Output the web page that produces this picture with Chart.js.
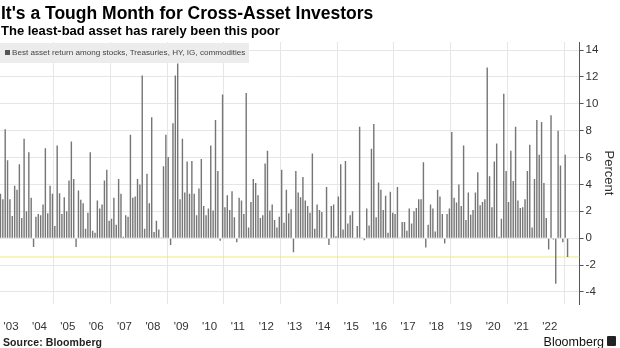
<!DOCTYPE html>
<html>
<head>
<meta charset="utf-8">
<script src="https://cdn.jsdelivr.net/npm/chart.js@4.4.1/dist/chart.umd.min.js"></script>
<style>
  html, body { margin: 0; padding: 0; background: #fff; }
  body { width: 620px; height: 348px; position: relative; overflow: hidden; font-family: "Liberation Sans", Arial, sans-serif; }
  #chart { position: absolute; left: 0; top: 0; }
  .txt { position: absolute; white-space: nowrap; line-height: 1; }
  #title { left: 1px; top: 5px; font-size: 17.5px; font-weight: bold; color: #000; }
  #subtitle { left: 1px; top: 24px; font-size: 13px; font-weight: bold; color: #000; }
  #legend { position: absolute; left: 0; top: 43px; width: 249px; height: 20px; background: #ececec; }
  #legend .box { position: absolute; left: 5px; top: 7px; width: 5px; height: 5px; background: #555; }
  #legend .lbl { left: 12px; top: 6px; font-size: 8.1px; color: #444; }
  #source { left: 3px; top: 337px; font-size: 10.5px; font-weight: bold; color: #222; letter-spacing: 0.1px; }
  #brand { right: 16px; top: 336px; font-size: 12.5px; color: #111; }
  #brandMark { position: absolute; right: 4px; top: 336px; width: 9px; height: 10px; background: #222; border-radius: 1px; }
</style>
</head>
<body>
<canvas id="chart" width="620" height="348"></canvas>
<div class="txt" id="title">It's a Tough Month for Cross-Asset Investors</div>
<div class="txt" id="subtitle">The least-bad asset has rarely been this poor</div>
<div id="legend"><div class="box"></div><div class="txt lbl">Best asset return among stocks, Treasuries, HY, IG, commodities</div></div>
<div class="txt" id="source">Source: Bloomberg</div>
<div class="txt" id="brand">Bloomberg</div>
<div id="brandMark"></div>
<script>
// monthly best return, Feb 2003 .. Feb 2023 (percent)
const bestReturn = [
  3.3, 2.9, 8.1, 5.8, 2.9, 1.65, 3.9, 3.6, 5.5, 1.5, 7.4,
  2.0, 6.4, 3.0, -0.65, 1.6, 1.8, 1.7, 2.5, 6.7, 1.85, 3.9, 3.3,
  0.9, 6.9, 3.35, 1.8, 3.05, 2.0, 4.3, 7.2, 4.4, -0.65, 3.55, 2.85,
  2.6, 0.7, 1.9, 6.4, 0.55, 0.4, 2.8, 2.2, 2.5, 4.3, 5.1, 1.3,
  1.45, 3.0, 1.0, 4.4, 3.3, 0.1, 1.7, 1.6, 7.7, 3.0, 3.1, 4.4,
  4.0, 12.1, 0.7, 4.8, 2.6, 9.0, 0.45, 1.3, 0.65, 0.05, 5.35, 7.7,
  6.05, -0.5, 8.55, 12.1, 13.0, 2.9, 7.4, 3.4, 5.7, 3.3, 5.75, 3.3,
  1.7, 3.7, 5.9, 2.4, 1.7, 2.2, 6.9, 2.05, 8.8, 5.0, -0.2, 10.7,
  2.3, 3.2, 2.1, 3.5, 1.55, -0.3, 3.0, 2.8, 1.8, 10.8, 0.8, 2.7,
  4.4, 4.1, 3.2, 1.5, 1.7, 5.55, 6.5, 2.05, 2.5, 1.35, 0.8, 1.6,
  5.1, 1.15, 3.6, 1.85, 2.15, -1.05, 5.0, 3.4, 3.05, 4.55, 2.8, 2.4,
  1.9, 6.3, 0.7, 2.5, 2.1, 1.95, 0.05, 3.8, -0.5, 2.4, 2.5, 0.15,
  3.1, 5.5, 0.65, 5.75, 1.1, 1.7, 2.0, 0.05, 0.9, 8.3, 0.05, -0.15,
  2.2, 0.95, 6.65, 8.5, 1.55, 4.15, 3.6, 2.1, 3.15, 0.4, 3.45, 1.9,
  1.8, 3.8, 0.05, 1.2, 1.2, 0.55, 2.2, 1.1, 2.0, 2.25, 2.9, 2.9,
  5.65, -0.7, 1.0, 2.5, 2.2, 0.5, 3.6, 3.1, 1.8, -0.4, 1.8, 2.2,
  7.9, 3.0, 2.65, 4.0, 2.4, 6.9, 1.35, 3.4, 1.75, 2.1, 3.4, 4.9,
  2.45, 2.7, 2.9, 12.7, 4.6, 2.3, 5.7, 7.05, 0.1, 1.45, 10.75, 5.0,
  2.7, 6.5, 4.25, 8.3, 2.8, 2.25, 2.3, 2.9, 5.0, 6.95, 0.8, 4.4,
  8.8, 6.2, 8.65, 4.1, 1.5, -0.85, 9.15, -0.1, -3.4, 8.0, 5.4, -0.3,
  6.2, -1.4
];

const yearLabels = ["'03", "'04", "'05", "'06", "'07", "'08", "'09", "'10", "'11", "'12",
  "'13", "'14", "'15", "'16", "'17", "'18", "'19", "'20", "'21", "'22"];

// index 0 is Feb 2003, so each year's middle sits at 4.5 + 12k
const yearMid = yearLabels.map((_, k) => 4.5 + 12 * k);
// vertical grid at the start of every even year (2004 .. 2022)
const gridYears = [2004, 2006, 2008, 2010, 2012, 2014, 2016, 2018, 2020, 2022];
const gridAt = gridYears.map(y => (y - 2003) * 12 - 1.5);

const X_MIN = -0.2, X_MAX = 245.1;
const latest = bestReturn[bestReturn.length - 1];

// keep the plot flush with the left edge: drop the label overhang padding
function noSidePadding(axis) {
  axis.paddingLeft = 0;
  axis.paddingRight = 0;
}

Chart.defaults.font.family = "'Liberation Sans', Arial, sans-serif";

const ctx = document.getElementById('chart').getContext('2d');
new Chart(ctx, {
  type: 'bar',
  data: {
    datasets: [
      {
        type: 'line',
        label: 'Latest',
        data: [{ x: X_MIN, y: latest }, { x: X_MAX, y: latest }],
        borderColor: '#f0e97c',
        borderWidth: 1,
        pointRadius: 0,
        xAxisID: 'x',
        order: 2
      },
      {
        label: 'Best asset return among stocks, Treasuries, HY, IG, commodities',
        data: bestReturn.map((v, i) => ({ x: i, y: v })),
        backgroundColor: '#767676',
        barPercentage: 0.6,
        categoryPercentage: 1,
        xAxisID: 'x',
        order: 1
      }
    ]
  },
  options: {
    responsive: false,
    animation: false,
    devicePixelRatio: 1,
    layout: { padding: { top: 42, left: 0, right: 0, bottom: 14 } },
    plugins: { legend: { display: false }, tooltip: { enabled: false } },
    scales: {
      xg: {
        type: 'linear',
        position: 'bottom',
        offset: false,
        min: X_MIN,
        max: X_MAX,
        grid: { color: '#e6e6e6', drawTicks: false },
        border: { display: false },
        ticks: { display: false },
        afterBuildTicks: axis => { axis.ticks = gridAt.map(v => ({ value: v })); },
        afterFit: axis => { axis.height = 0; noSidePadding(axis); }
      },
      x: {
        type: 'linear',
        position: 'bottom',
        offset: false,
        min: X_MIN,
        max: X_MAX,
        grid: { display: false, drawTicks: false },
        border: { display: false },
        ticks: {
          autoSkip: false,
          maxRotation: 0,
          padding: 16,
          color: '#333',
          font: { size: 11.5 },
          callback: (v, i) => yearLabels[i]
        },
        afterBuildTicks: axis => { axis.ticks = yearMid.map(v => ({ value: v })); },
        afterFit: axis => { axis.height = 30; noSidePadding(axis); }
      },
      y: {
        position: 'right',
        min: -4.9,
        max: 14.6,
        grid: { color: '#e6e6e6', tickColor: '#555', tickLength: 4 },
        border: { display: true, color: '#555' },
        ticks: { stepSize: 2, includeBounds: false, color: '#333', font: { size: 11.5 }, padding: 2 },
        title: { display: true, text: 'Percent', color: '#333', font: { size: 13 }, padding: { top: 4, bottom: 0 } }
      }
    }
  }
});
</script>
</body>
</html>
